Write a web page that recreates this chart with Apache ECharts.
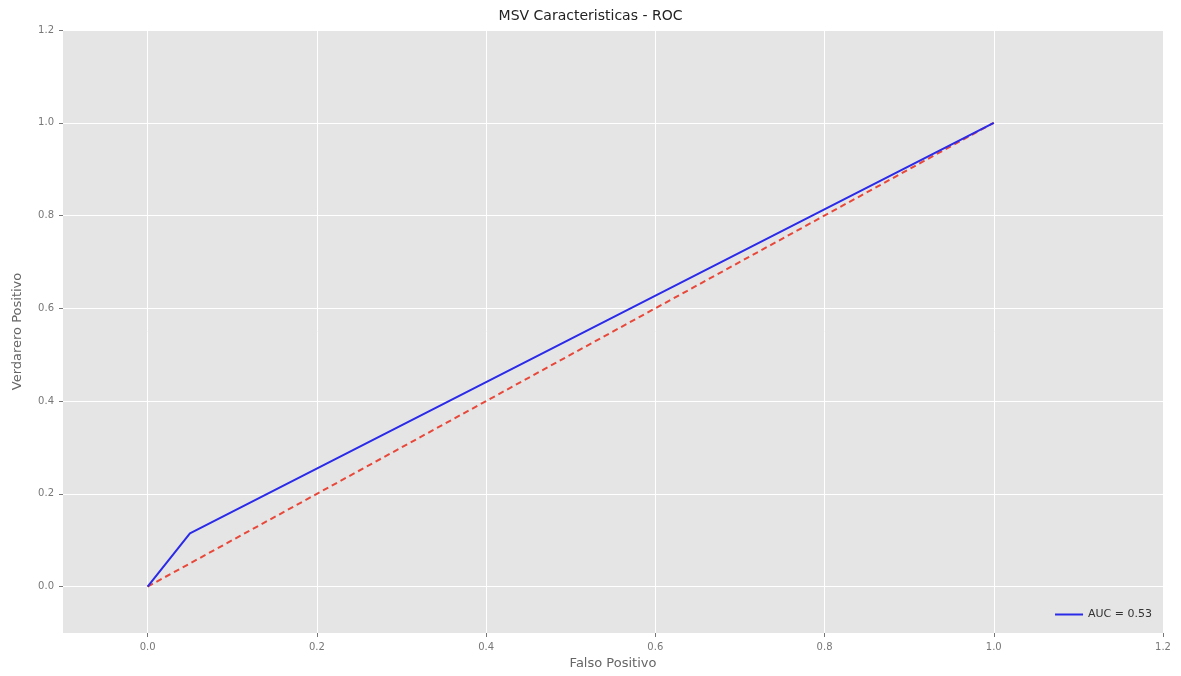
<!DOCTYPE html>
<html>
<head>
<meta charset="utf-8">
<script src="https://cdn.jsdelivr.net/npm/echarts@6/dist/echarts.min.js"></script>
<style>
  html, body { margin: 0; padding: 0; background: #fff; }
  #chart { width: 1181px; height: 676px; }
</style>
</head>
<body>
<div id="chart"></div>
<script>
// ROC curve points (falso positivo, verdadero positivo)
var rocFpr = [0.0, 0.05, 1.0];
var rocTpr = [0.0, 0.115, 1.0];
// diagonal reference
var diagX = [0.0, 1.0];
var diagY = [0.0, 1.0];
var tickVals = [0.0, 0.2, 0.4, 0.6, 0.8, 1.0, 1.2];
var aucLabel = 'AUC = 0.53';

var font = 'DejaVu Sans';
var chart = echarts.init(document.getElementById('chart'));

function pairs(xs, ys) {
    return xs.map(function (x, i) { return [x, ys[i]]; });
}

function axisOpt(name, gap, rot) {
    return {
        type: 'value',
        min: -0.1,
        max: 1.2,
        name: name,
        nameLocation: 'middle',
        nameGap: gap,
        nameRotate: rot,
        nameTextStyle: { color: '#666', fontFamily: font, fontSize: 13 },
        axisLine: { show: false, onZero: false },
        axisTick: { show: true, length: 4, lineStyle: { color: '#777' }, customValues: tickVals },
        axisLabel: {
            color: '#777', fontFamily: font, fontSize: 10, margin: 9,
            customValues: tickVals,
            formatter: function (v) { return v.toFixed(1); }
        },
        splitLine: { show: true, lineStyle: { color: '#fff', width: 1 } }
    };
}

chart.setOption({
    animation: false,
    backgroundColor: '#fff',
    title: {
        text: 'MSV Caracteristicas - ROC',
        left: 'center',
        top: 4,
        textStyle: { color: '#222', fontFamily: font, fontSize: 14, fontWeight: 'normal' }
    },
    grid: {
        left: 63, right: 18, top: 30, bottom: 43,
        outerBoundsMode: 'none',
        show: true, backgroundColor: '#e5e5e5', borderWidth: 0
    },
    xAxis: axisOpt('Falso Positivo', 22, 0),
    yAxis: axisOpt('Verdarero Positivo', 39, 90),
    legend: {
        right: 24, bottom: 51,
        itemWidth: 28, itemHeight: 2, itemGap: 8,
        icon: 'rect',
        textStyle: { color: '#333', fontFamily: font, fontSize: 11 },
        data: [aucLabel]
    },
    series: [
        {
            name: aucLabel,
            type: 'line',
            data: pairs(rocFpr, rocTpr),
            symbol: 'none',
            lineStyle: { color: '#2a2ae8', width: 2 },
            itemStyle: { color: '#2a2ae8' },
            z: 3
        },
        {
            name: 'diag',
            type: 'line',
            data: pairs(diagX, diagY),
            symbol: 'none',
            lineStyle: { color: '#e8483a', width: 2, type: [6, 4] },
            z: 2
        }
    ]
});
</script>
</body>
</html>
